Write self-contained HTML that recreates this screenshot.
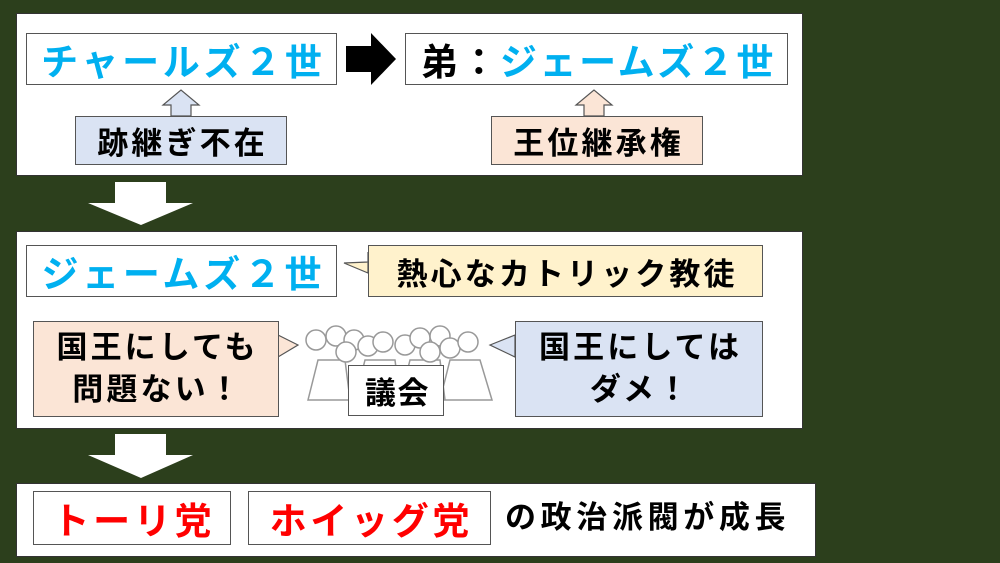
<!DOCTYPE html>
<html><head><meta charset="utf-8"><style>
body{margin:0;width:1000px;height:563px;background:#2c3f1c;position:relative;overflow:hidden;font-family:"Liberation Sans","Noto Sans CJK JP",sans-serif;font-weight:bold}
.p{position:absolute;background:#fff;border:1px solid #333}
.b{position:absolute;border:1.5px solid #555;box-sizing:border-box;display:flex;align-items:center;justify-content:center;white-space:nowrap;letter-spacing:0.1em;padding-left:0.1em}
.blue{color:#00b0f0}
.red{color:#ff0000}
svg{position:absolute;left:0;top:0}
</style></head><body>
<div class="p" style="left:16px;top:13px;width:785px;height:161px"></div>
<div class="p" style="left:16px;top:231px;width:785px;height:196px"></div>
<div class="p" style="left:16px;top:483px;width:798px;height:72px"></div>

<svg width="1000" height="563">
<polygon points="346,46 371,46 371,33 396,59 371,85 371,72 346,72" fill="#000"/>
<polygon points="171,116 171,105 163,105 181,90 199,105 191,105 191,116" fill="#dae3f3" stroke="#555" stroke-width="1.2"/>
<polygon points="584,116 584,105 576,105 594,90 612,105 604,105 604,116" fill="#fbe5d6" stroke="#555" stroke-width="1.2"/>
<polygon points="115,182 166,182 166,203 193,203 141,225 88,203 115,203" fill="#fff"/>
<polygon points="115,434 166,434 166,455 193,455 141,478 88,455 115,455" fill="#fff"/>
<polygon points="368,252 368,262 344,263 368,273" fill="#fff2cc" stroke="#555" stroke-width="1.2"/>
<polygon points="278,335 298,345 278,357" fill="#fbe5d6" stroke="#555" stroke-width="1.2"/>
<polygon points="515,335 490,345 515,357" fill="#dae3f3" stroke="#555" stroke-width="1.2"/>
<g fill="#fff" stroke="#999" stroke-width="1.5">
<path d="M308,400 L318,360 L345,360 L350,400 Z M355,400 L365,360 L395,360 L400,400 Z M400,400 L410,360 L440,360 L445,400 Z M440,400 L450,360 L480,360 L492,400 Z"/>
<circle cx="316" cy="340" r="10"/><circle cx="336" cy="336" r="10"/><circle cx="354" cy="340" r="10"/><circle cx="346" cy="352" r="10"/><circle cx="368" cy="346" r="10"/><circle cx="383" cy="342" r="10"/><circle cx="405" cy="345" r="10"/><circle cx="420" cy="338" r="10"/><circle cx="440" cy="336" r="10"/><circle cx="430" cy="352" r="10"/><circle cx="450" cy="348" r="10"/><circle cx="468" cy="342" r="10"/>
</g>
</svg>

<div class="b blue" style="left:26px;top:33px;width:311px;height:52px;font-size:37px;background:#fff">チャールズ２世</div>
<div class="b" style="left:405px;top:33px;width:383px;height:52px;font-size:37px;background:#fff;letter-spacing:0.07em"><span>弟：</span><span class="blue">ジェームズ２世</span></div>
<div class="b" style="left:75px;top:116px;width:212px;height:49px;font-size:31px;background:#dae3f3">跡継ぎ不在</div>
<div class="b" style="left:491px;top:116px;width:212px;height:49px;font-size:31px;background:#fbe5d6">王位継承権</div>

<div class="b blue" style="left:26px;top:245px;width:311px;height:52px;font-size:37px;background:#fff">ジェームズ２世</div>
<div class="b" style="left:368px;top:245px;width:395px;height:52px;font-size:31px;background:#fff2cc">熱心なカトリック教徒</div>
<div class="b" style="left:33px;top:321px;width:246px;height:96px;font-size:31px;background:#fbe5d6;line-height:42px;text-align:center;white-space:normal">国王にしても<br>問題ない！</div>
<div class="b" style="left:515px;top:321px;width:248px;height:96px;font-size:31px;background:#dae3f3;line-height:42px;text-align:center;white-space:normal">国王にしては<br>ダメ！</div>
<div class="b" style="left:348px;top:365px;width:96px;height:51px;font-size:31px;background:#fff;letter-spacing:0.05em">議会</div>

<div class="b red" style="left:33px;top:491px;width:198px;height:54px;font-size:37px;background:#fff">トーリ党</div>
<div class="b red" style="left:248px;top:491px;width:243px;height:54px;font-size:37px;background:#fff">ホイッグ党</div>
<div style="position:absolute;left:505px;top:497px;font-size:31px;line-height:42px;white-space:nowrap;letter-spacing:0.15em">の政治派閥が成長</div>
</body></html>
